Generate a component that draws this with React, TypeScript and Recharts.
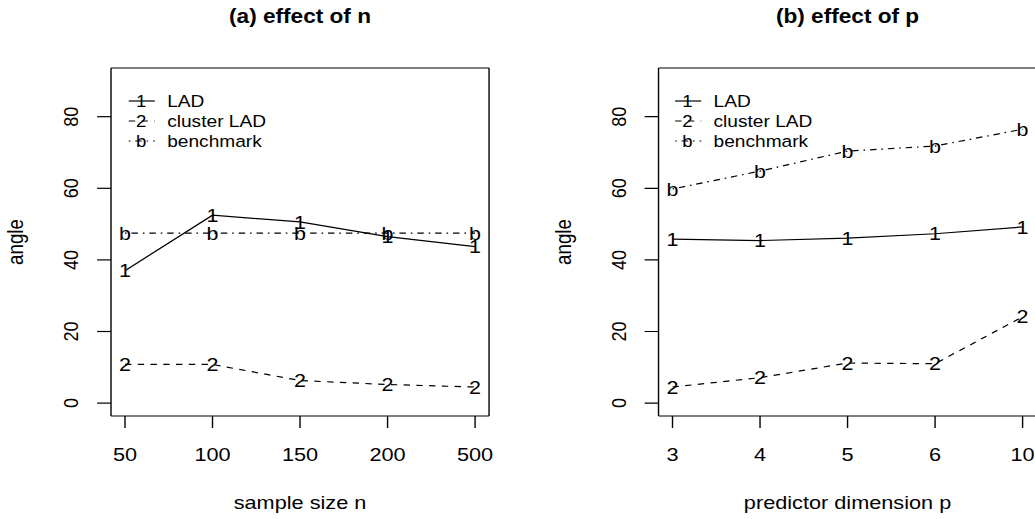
import React from 'react'
import { LineChart, Line, XAxis, YAxis, Legend } from 'recharts'

const nLabels = ['50', '100', '150', '200', '500']
const ladByN = [37.0, 52.5, 50.6, 46.5, 43.7]
const clusterByN = [10.8, 10.8, 6.3, 5.2, 4.5]
const benchByN = [47.5, 47.5, 47.5, 47.5, 47.5]

const pLabels = ['3', '4', '5', '6', '10']
const ladByP = [45.8, 45.4, 46.1, 47.3, 49.2]
const clusterByP = [4.5, 7.1, 11.2, 11.0, 24.1]
const benchByP = [59.8, 64.8, 70.4, 71.8, 76.5]

const yTicks = [0, 20, 40, 60, 80]
const yDomain: [number, number] = [-3.6, 93.6]

const series = [
  { key: 'lad', name: 'LAD', symbol: '1', dash: undefined as string | undefined },
  { key: 'cluster', name: 'cluster LAD', symbol: '2', dash: '5.5 5.5' },
  { key: 'bench', name: 'benchmark', symbol: 'b', dash: '1.4 4.2 5.6 4.2' },
]

// the reference is stretched sideways, so everything is drawn narrow and scaled in x
const SX = 1.16
const FONT = '"Liberation Sans", Arial, Helvetica, sans-serif'
const W = 448.3
const H = 519
const SHIFT = 471.8
const MID = 258.65

const XTick = (p: any) => (
  <text x={p.x} y={p.y + 30.7} textAnchor="middle" fontSize={18.7} fontFamily={FONT} fill="#000">
    {p.payload.value}
  </text>
)

const YTick = (p: any) => (
  <text
    transform={`translate(${p.x - 14.3},${p.y}) rotate(-90)`}
    textAnchor="middle"
    fontSize={18}
    fontFamily={FONT}
    fill="#000"
  >
    {p.payload.value}
  </text>
)

const symbolDot = (symbol: string) => (p: any) => (
  <text
    key={`${symbol}-${p.index}`}
    x={p.cx}
    y={p.cy}
    dy="0.36em"
    textAnchor="middle"
    fontSize={18.5}
    fontFamily={FONT}
    fill="#000"
  >
    {symbol}
  </text>
)

function LegendBox({ payload }: any) {
  // keep the order of the series, not the alphabetical one
  const items = series.filter((s) => (payload || []).some((it: any) => it.dataKey === s.key))
  return (
    <svg width={160} height={60} style={{ display: 'block', overflow: 'visible' }}>
      {items.map((s, i) => {
        const y = 10 + i * 20
        return (
          <g key={s.key}>
            <line x1={0} x2={22.5} y1={y} y2={y} stroke="#000" strokeWidth={1.2} strokeDasharray={s.dash} />
            <text x={10.7} y={y} dy="0.36em" textAnchor="middle" fontSize={16} fontFamily={FONT}>
              {s.symbol}
            </text>
            <text x={33.1} y={y} dy="0.36em" fontSize={16.5} fontFamily={FONT}>
              {s.name}
            </text>
          </g>
        )
      })}
    </svg>
  )
}

function Panel({ left, title, xTitle, labels, lad, cluster, bench }: any) {
  const data = labels.map((label: string, i: number) => ({
    label,
    lad: lad[i],
    cluster: cluster[i],
    bench: bench[i],
  }))
  return (
    <div style={{ position: 'absolute', left, top: 0, width: W, height: H }}>
      <LineChart
        width={W}
        height={H}
        data={data}
        margin={{ top: 67, right: 25.7, bottom: 47, left: 0 }}
        style={{ fontFamily: FONT }}
      >
        <XAxis
          dataKey="label"
          height={56}
          tickSize={12}
          interval={0}
          padding={{ left: 12.05, right: 12.05 }}
          stroke="#000"
          strokeWidth={1.2}
          tick={XTick}
        />
        <XAxis
          xAxisId="top"
          dataKey="label"
          orientation="top"
          height={1}
          tick={false}
          tickLine={false}
          stroke="#000"
          strokeWidth={1.2}
        />
        <YAxis
          width={95.7}
          domain={yDomain}
          ticks={yTicks}
          tickSize={12}
          stroke="#000"
          strokeWidth={1.2}
          tick={YTick}
        />
        <YAxis
          yAxisId="right"
          orientation="right"
          width={1}
          domain={yDomain}
          tick={false}
          tickLine={false}
          stroke="#000"
          strokeWidth={1.2}
        />
        <Legend
          layout="horizontal"
          verticalAlign="middle"
          align="center"
          content={<LegendBox />}
          wrapperStyle={{ left: 110.6, top: 91, width: 200, height: 60 }}
        />
        {series.map((s) => (
          <Line
            key={s.key}
            dataKey={s.key}
            name={s.name}
            type="linear"
            stroke="#000"
            strokeWidth={1.2}
            strokeDasharray={s.dash}
            dot={symbolDot(s.symbol)}
            activeDot={false}
            isAnimationActive={false}
          />
        ))}
      </LineChart>
      <svg
        width={W}
        height={H}
        style={{ position: 'absolute', left: 0, top: 0, pointerEvents: 'none', overflow: 'visible' }}
      >
        <text x={MID} y={23.5} textAnchor="middle" fontSize={19.5} fontWeight="bold" fontFamily={FONT}>
          {title}
        </text>
        <text x={MID} y={509} textAnchor="middle" fontSize={18.7} fontFamily={FONT}>
          {xTitle}
        </text>
        <text transform="translate(20.2,242) rotate(-90)" textAnchor="middle" fontSize={18.7} fontFamily={FONT}>
          angle
        </text>
      </svg>
    </div>
  )
}

export default function App() {
  return (
    <div
      style={{
        position: 'fixed',
        left: 0,
        top: 0,
        width: 1035,
        height: 519,
        overflow: 'hidden',
        background: '#fff',
      }}
    >
      <div
        style={{
          position: 'absolute',
          left: 0,
          top: 0,
          width: 1035 / SX,
          height: H,
          transform: `scaleX(${SX})`,
          transformOrigin: '0 0',
        }}
      >
        <Panel
          left={0}
          title="(a) effect of n"
          xTitle="sample size n"
          labels={nLabels}
          lad={ladByN}
          cluster={clusterByN}
          bench={benchByN}
        />
        <Panel
          left={SHIFT}
          title="(b) effect of p"
          xTitle="predictor dimension p"
          labels={pLabels}
          lad={ladByP}
          cluster={clusterByP}
          bench={benchByP}
        />
      </div>
    </div>
  )
}
